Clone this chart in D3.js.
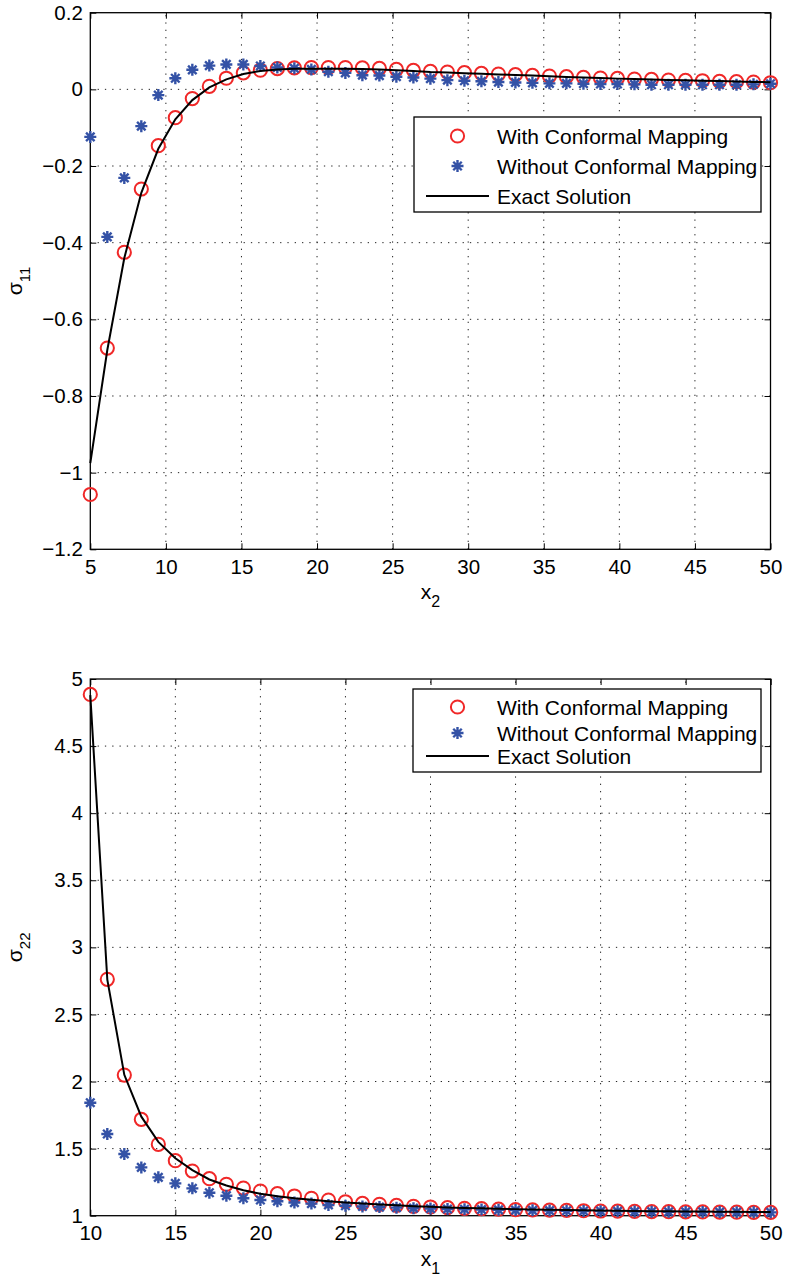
<!DOCTYPE html>
<html>
<head>
<meta charset="utf-8">
<script src="https://cdn.jsdelivr.net/npm/d3@7"></script>
<style>
  html, body { margin: 0; padding: 0; background: #fff; }
  svg { display: block; }
</style>
</head>
<body>
<svg id="fig" width="785" height="1279"></svg>
<script>
// ---------- data: sigma_11 along x2 ----------
const x2Values = [5, 6.125, 7.25, 8.375, 9.5, 10.625, 11.75, 12.875, 14, 15.125,
  16.25, 17.375, 18.5, 19.625, 20.75, 21.875, 23, 24.125, 25.25, 26.375,
  27.5, 28.625, 29.75, 30.875, 32, 33.125, 34.25, 35.375, 36.5, 37.625,
  38.75, 39.875, 41, 42.125, 43.25, 44.375, 45.5, 46.625, 47.75, 48.875, 50];
const s11WithMapping = [-1.057, -0.675, -0.425, -0.260, -0.147, -0.074, -0.024, 0.008, 0.029, 0.043,
  0.050, 0.054, 0.056, 0.057, 0.057, 0.057, 0.056, 0.0548, 0.0522, 0.0496,
  0.047, 0.0452, 0.0434, 0.0417, 0.040, 0.0382, 0.0365, 0.0348, 0.033, 0.0313,
  0.0295, 0.0287, 0.027, 0.0261, 0.0243, 0.0235, 0.0225, 0.0209, 0.020, 0.019, 0.0173];
const s11WithoutMapping = [-0.124, -0.385, -0.231, -0.096, -0.015, 0.029, 0.051, 0.062, 0.065, 0.065,
  0.061, 0.057, 0.055, 0.052, 0.046, 0.043, 0.037, 0.036, 0.033, 0.031,
  0.028, 0.024, 0.0225, 0.021, 0.019, 0.018, 0.017, 0.0157, 0.0157, 0.0147,
  0.0139, 0.0139, 0.013, 0.012, 0.012, 0.012, 0.012, 0.012, 0.012, 0.013, 0.0147];
const s11Exact = [-0.975, -0.68, -0.44, -0.27, -0.155, -0.078, -0.028, 0.005, 0.026, 0.040,
  0.048, 0.052, 0.054, 0.054, 0.054, 0.054, 0.053, 0.052, 0.050, 0.048,
  0.0455, 0.044, 0.042, 0.0405, 0.039, 0.0375, 0.036, 0.034, 0.0325, 0.031,
  0.0295, 0.028, 0.027, 0.026, 0.0245, 0.0235, 0.0225, 0.0215, 0.0205, 0.0195, 0.0185];
const s11XTicks = [5, 10, 15, 20, 25, 30, 35, 40, 45, 50];
const s11XTickLabels = ["5", "10", "15", "20", "25", "30", "35", "40", "45", "50"];
const s11YTicks = [0.2, 0, -0.2, -0.4, -0.6, -0.8, -1, -1.2];
const s11YTickLabels = ["0.2", "0", "\u22120.2", "\u22120.4", "\u22120.6", "\u22120.8", "\u22121", "\u22121.2"];

// ---------- data: sigma_22 along x1 ----------
const x1Values = [10, 11, 12, 13, 14, 15, 16, 17, 18, 19, 20, 21, 22, 23, 24, 25, 26, 27, 28, 29,
  30, 31, 32, 33, 34, 35, 36, 37, 38, 39, 40, 41, 42, 43, 44, 45, 46, 47, 48, 49, 50];
const s22WithMapping = [4.885, 2.762, 2.048, 1.718, 1.532, 1.410, 1.333, 1.276, 1.234, 1.206,
  1.184, 1.164, 1.147, 1.130, 1.117, 1.104, 1.092, 1.085, 1.077, 1.070,
  1.065, 1.060, 1.055, 1.052, 1.049, 1.046, 1.043, 1.041, 1.039, 1.037,
  1.035, 1.034, 1.032, 1.031, 1.030, 1.029, 1.028, 1.027, 1.026, 1.025, 1.025];
const s22WithoutMapping = [1.842, 1.609, 1.460, 1.360, 1.286, 1.241, 1.204, 1.171, 1.149, 1.130,
  1.117, 1.108, 1.098, 1.090, 1.080, 1.074, 1.069, 1.064, 1.060, 1.056,
  1.053, 1.050, 1.048, 1.046, 1.044, 1.042, 1.040, 1.038, 1.037, 1.035,
  1.034, 1.033, 1.031, 1.030, 1.029, 1.028, 1.028, 1.027, 1.026, 1.025, 1.025];
const s22Exact = [4.88, 2.76, 2.05, 1.738, 1.55, 1.428, 1.34, 1.27, 1.225, 1.19,
  1.163, 1.145, 1.13, 1.118, 1.108, 1.099, 1.091, 1.084, 1.077, 1.071,
  1.066, 1.062, 1.058, 1.055, 1.052, 1.049, 1.046, 1.044, 1.042, 1.040,
  1.038, 1.037, 1.035, 1.034, 1.033, 1.032, 1.031, 1.030, 1.029, 1.028, 1.027];
const s22XTicks = [10, 15, 20, 25, 30, 35, 40, 45, 50];
const s22XTickLabels = ["10", "15", "20", "25", "30", "35", "40", "45", "50"];
const s22YTicks = [5, 4.5, 4, 3.5, 3, 2.5, 2, 1.5, 1];
const s22YTickLabels = ["5", "4.5", "4", "3.5", "3", "2.5", "2", "1.5", "1"];

const seriesNames = ["With Conformal Mapping", "Without Conformal Mapping", "Exact Solution"];

// ---------- styling ----------
const FONT = "'Liberation Sans', Arial, Helvetica, sans-serif";
const RED = "#f02828";
const BLUE = "#3452a6";
const TICK_FS = 20.5;

const svg = d3.select("#fig");

// asterisk: plus sign overlaid with a cross
function asteriskPath(r) {
  const a = r * 0.7071;
  return `M${-r},0L${r},0M0,${-r}L0,${r}M${-a},${-a}L${a},${a}M${-a},${a}L${a},${-a}`;
}

function drawPanel(p) {
  const x = d3.scaleLinear().domain(p.xDomain).range([p.left, p.right]);
  const y = d3.scaleLinear().domain(p.yDomain).range([p.bottom, p.top]);
  const g = svg.append("g");

  // dotted grid
  const grid = g.append("g").attr("stroke", "#222").attr("stroke-width", 1)
    .attr("stroke-dasharray", "1.3,6");
  grid.selectAll("line.gx").data(p.xTicks.filter(v => v !== p.xDomain[0] && v !== p.xDomain[1]))
    .join("line").attr("x1", d => x(d)).attr("x2", d => x(d))
    .attr("y1", p.bottom).attr("y2", p.top);
  grid.selectAll("line.gy").data(p.yTicks.filter(v => v !== p.yDomain[0] && v !== p.yDomain[1]))
    .join("line").attr("y1", d => y(d)).attr("y2", d => y(d))
    .attr("x1", p.left).attr("x2", p.right);

  // axes with inward ticks on all four sides
  const axB = d3.axisBottom(x).tickValues(p.xTicks).tickSize(-6).tickPadding(10)
    .tickFormat((d, i) => p.xTickLabels[i]);
  const axL = d3.axisLeft(y).tickValues(p.yTicks).tickSize(-6).tickPadding(7.5)
    .tickFormat((d, i) => p.yTickLabels[i]);
  const axT = d3.axisTop(x).tickValues(p.xTicks).tickSize(-6).tickFormat("");
  const axR = d3.axisRight(y).tickValues(p.yTicks).tickSize(-6).tickFormat("");
  const styleAxis = sel => {
    sel.select(".domain").remove();
    sel.selectAll("line").attr("stroke", "#000").attr("stroke-width", 1);
    sel.selectAll("text").attr("fill", "#000").style("font-family", FONT)
      .style("font-size", TICK_FS + "px");
  };
  g.append("g").attr("transform", `translate(0,${p.bottom})`).call(axB).call(styleAxis);
  g.append("g").attr("transform", `translate(${p.left},0)`).call(axL).call(styleAxis);
  g.append("g").attr("transform", `translate(0,${p.top})`).call(axT).call(styleAxis);
  g.append("g").attr("transform", `translate(${p.right},0)`).call(axR).call(styleAxis);

  // frame
  g.append("rect").attr("x", p.left).attr("y", p.top)
    .attr("width", p.right - p.left).attr("height", p.bottom - p.top)
    .attr("fill", "none").attr("stroke", "#000").attr("stroke-width", 1.3);

  // markers: circles (with mapping), asterisks (without mapping)
  g.append("g").selectAll("circle").data(p.xs)
    .join("circle").attr("cx", d => x(d)).attr("cy", (d, i) => y(p.circ[i]))
    .attr("r", 6.6).attr("fill", "none").attr("stroke", RED).attr("stroke-width", 2);
  g.append("g").selectAll("path").data(p.xs)
    .join("path").attr("transform", (d, i) => `translate(${x(d)},${y(p.star[i])})`)
    .attr("d", asteriskPath(6)).attr("fill", "none").attr("stroke", BLUE)
    .attr("stroke-width", 2.4);

  // exact solution curve
  const line = d3.line().x(d => x(d[0])).y(d => y(d[1]));
  g.append("path").datum(p.xs.map((v, i) => [v, p.exact[i]]))
    .attr("d", line).attr("fill", "none").attr("stroke", "#000").attr("stroke-width", 2);

  // axis labels
  const xl = g.append("text").attr("x", (p.left + p.right) / 2).attr("y", p.bottom + 50)
    .attr("text-anchor", "middle").style("font-family", FONT).style("font-size", "21px");
  xl.append("tspan").text(p.xLabel[0]);
  xl.append("tspan").attr("dy", 8).style("font-size", "16px").text(p.xLabel[1]);

  const cy = (p.top + p.bottom) / 2;
  const yl = g.append("text").attr("transform", `translate(21.5,${cy}) rotate(-90)`)
    .attr("text-anchor", "middle").style("font-family", FONT).style("font-size", "21px");
  yl.append("tspan").text(p.yLabel[0]);
  yl.append("tspan").attr("dy", 8).style("font-size", "15px").text(p.yLabel[1]);

  // legend
  const L = p.legend;
  const lg = g.append("g");
  lg.append("rect").attr("x", L.x0).attr("y", L.y0).attr("width", L.x1 - L.x0)
    .attr("height", L.y1 - L.y0).attr("fill", "#fff").attr("stroke", "#000").attr("stroke-width", 1.3);
  const symX = 457.5, textX = 497;
  lg.append("circle").attr("cx", symX).attr("cy", L.rows[0]).attr("r", 6.6)
    .attr("fill", "none").attr("stroke", RED).attr("stroke-width", 2);
  lg.append("path").attr("transform", `translate(${symX},${L.rows[1]})`)
    .attr("d", asteriskPath(6)).attr("fill", "none").attr("stroke", BLUE).attr("stroke-width", 2.4);
  lg.append("line").attr("x1", 426).attr("x2", 489).attr("y1", L.rows[2]).attr("y2", L.rows[2])
    .attr("stroke", "#000").attr("stroke-width", 2);
  lg.selectAll("text").data(seriesNames).join("text")
    .attr("x", textX).attr("y", (d, i) => L.rows[i] + 7.5)
    .style("font-family", FONT).style("font-size", "21px").attr("fill", "#000")
    .text(d => d);
}

drawPanel({
  left: 90.3, right: 770.5, top: 12.7, bottom: 549.3,
  xDomain: [5, 50], yDomain: [-1.2, 0.2],
  xTicks: s11XTicks, xTickLabels: s11XTickLabels,
  yTicks: s11YTicks, yTickLabels: s11YTickLabels,
  xs: x2Values, circ: s11WithMapping, star: s11WithoutMapping, exact: s11Exact,
  xLabel: ["x", "2"], yLabel: ["\u03c3", "11"],
  legend: { x0: 414, y0: 117, x1: 761, y1: 212, rows: [136, 166, 196] }
});

drawPanel({
  left: 90.3, right: 770.7, top: 679, bottom: 1215.7,
  xDomain: [10, 50], yDomain: [1, 5],
  xTicks: s22XTicks, xTickLabels: s22XTickLabels,
  yTicks: s22YTicks, yTickLabels: s22YTickLabels,
  xs: x1Values, circ: s22WithMapping, star: s22WithoutMapping, exact: s22Exact,
  xLabel: ["x", "1"], yLabel: ["\u03c3", "22"],
  legend: { x0: 413, y0: 689, x1: 761, y1: 772, rows: [707, 733, 756] }
});
</script>
</body>
</html>
